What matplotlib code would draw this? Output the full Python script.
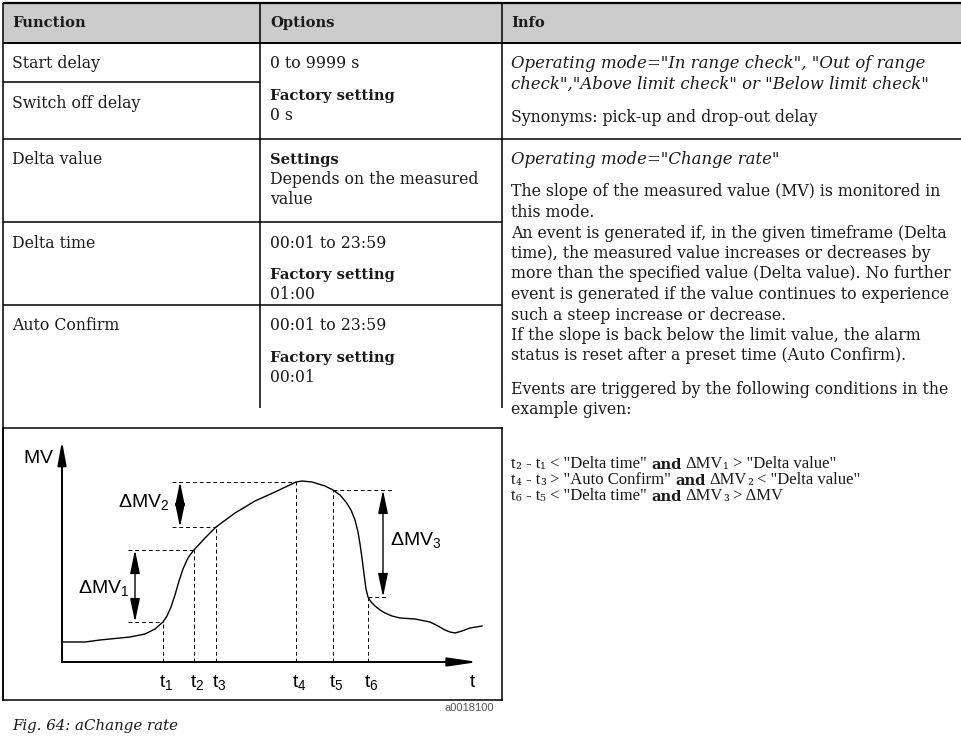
import matplotlib
matplotlib.use("Agg")
import matplotlib.pyplot as plt

# ---------------- data ----------------
header = ["Function", "Options", "Info"]
functions = ["Start delay", "Switch off delay", "Delta value", "Delta time", "Auto Confirm"]
options_lines = [
    ("0 to 9999 s", "normal"), ("Factory setting", "bold"), ("0 s", "normal"),
    ("Settings", "bold"), ("Depends on the measured", "normal"), ("value", "normal"),
    ("00:01 to 23:59", "normal"), ("Factory setting", "bold"), ("01:00", "normal"),
    ("00:01 to 23:59", "normal"), ("Factory setting", "bold"), ("00:01", "normal"),
]
info_lines = [
    ('Operating mode="In range check", "Out of range', "italic"),
    ('check","Above limit check" or "Below limit check"', "italic"),
    ("Synonyms: pick-up and drop-out delay", "normal"),
    ('Operating mode="Change rate"', "italic"),
    ("The slope of the measured value (MV) is monitored in", "normal"),
    ("this mode.", "normal"),
    ("An event is generated if, in the given timeframe (Delta", "normal"),
    ("time), the measured value increases or decreases by", "normal"),
    ("more than the specified value (Delta value). No further", "normal"),
    ("event is generated if the value continues to experience", "normal"),
    ("such a steep increase or decrease.", "normal"),
    ("If the slope is back below the limit value, the alarm", "normal"),
    ("status is reset after a preset time (Auto Confirm).", "normal"),
    ("Events are triggered by the following conditions in the", "normal"),
    ("example given:", "normal"),
]
# runs: (text, kind) with kind r=regular, s=subscript, b=bold ; spaces handled as gaps
cond_lines = [
    [("t", "r"), ("\u2082", "s"), (" - t", "r"), ("\u2081", "s"), (' < "Delta time"', "r"),
     (" and ", "b"), ("\u0394MV", "r"), ("\u2081", "s"), (' > "Delta value"', "r")],
    [("t", "r"), ("\u2084", "s"), (" - t", "r"), ("\u2083", "s"), (' > "Auto Confirm"', "r"),
     (" and ", "b"), ("\u0394MV", "r"), ("\u2082", "s"), (' < "Delta value"', "r")],
    [("t", "r"), ("\u2086", "s"), (" - t", "r"), ("\u2085", "s"), (' < "Delta time"', "r"),
     (" and ", "b"), ("\u0394MV", "r"), ("\u2083", "s"), (" > \u0394MV", "r")],
]
fig_id = "a0018100"
caption = "Fig. 64: aChange rate"

# diagram curve (t, MV)
curve_t = [0, 23, 38, 68, 83, 93, 101, 105, 109, 113, 117, 121, 125, 128, 132, 143, 154,
           173, 193, 213, 234, 240, 250, 263, 271, 278, 284, 289, 293, 296, 298, 300,
           302, 304, 306, 309, 313, 318, 323, 330, 338, 353, 368, 376, 383, 388, 393,
           400, 408, 420]
curve_mv = [20, 20, 22, 25, 28, 33, 40, 46, 55, 67, 81, 93, 102, 107, 112, 124, 135,
            149, 161, 170, 180, 181, 180, 176, 172, 167, 160, 152, 142, 130, 118, 104,
            88, 73, 65, 60, 56, 52, 49, 46, 44, 43, 40, 36, 32, 30, 29, 31, 34, 36]
event_t = [101, 132, 154, 234, 271, 306]
event_mv = [40, 112, 135, 180, 172, 65]
event_labels = ["1", "2", "3", "4", "5", "6"]
delta_labels = ["1", "2", "3"]

# ---------------- figure ----------------
W, H = 962, 742
fig = plt.figure(figsize=(W / 100, H / 100), dpi=100)
fig.patch.set_facecolor("white")
ax = fig.add_axes([0, 0, 1, 1])
ax.set_xlim(0, W)
ax.set_ylim(H, 0)
ax.axis("off")

TXT = "#1a1a1a"
SERIF = ["DejaVu Serif"]
FS = 11.3      # regular
FSB = 10.6     # bold
FSI = 11.9     # italic
LW = 1.1

# header background
ax.fill_between([3, W], 3, 43, color="#cccccc", lw=0, zorder=0)

def hline(y, x0, x1, lw=LW):
    ax.plot([x0, x1], [y, y], color="black", lw=lw, solid_capstyle="butt")

def vline(x, y0, y1, lw=LW):
    ax.plot([x, x], [y0, y1], color="black", lw=lw, solid_capstyle="butt")

hline(3, 3, W, lw=1.6)
hline(43, 3, W, lw=1.4)
hline(82, 3, 260)
hline(139, 3, W)
hline(222, 3, 502)
hline(305, 3, 502)
vline(3, 3, 700)
vline(260, 3, 408)
vline(502, 3, 408)

def put(x, y, s, kind="normal", **kw):
    if kind == "bold":
        return ax.text(x, y, s, fontsize=FSB, fontweight="bold", family=SERIF, color=TXT,
                       va="center", **kw)
    if kind == "italic":
        return ax.text(x, y, s, fontsize=FSI, style="italic", family=SERIF, color=TXT,
                       va="center", **kw)
    return ax.text(x, y, s, fontsize=FS, family=SERIF, color=TXT, va="center", **kw)

# header texts
for s, x in zip(header, [12, 270, 511]):
    put(x, 23, s, "bold")

# function column
for s, y in zip(functions, [64, 104, 160, 243, 326]):
    put(12, y, s)

# options column
opt_y = [64, 96, 115.5, 160, 180, 200, 243, 275, 294.5, 326, 358, 377.5]
for (s, w), y in zip(options_lines, opt_y):
    put(270, y, s, w)

# info column
info_y = [64, 84, 117, 160, 192, 212.5, 233, 253.5, 274, 294.5, 315, 335.5, 356, 389, 409]
for (s, st), y in zip(info_lines, info_y):
    put(511, y, s, st)

# condition lines: chained runs
CFS = 12.0
SPACE = 3.0  # points
RUN_STYLE = {
    "r": dict(fontsize=CFS, family=["Liberation Serif", "DejaVu Serif"]),
    "s": dict(fontsize=10.5, family=SERIF),
    "b": dict(fontsize=10.6, family=SERIF, fontweight="bold"),
}
cond_y = [464, 480, 496]
for runs, y in zip(cond_lines, cond_y):
    prev = None
    pending_gap = 0.0
    for text, kind in runs:
        lead = len(text) - len(text.lstrip(" "))
        trail = len(text) - len(text.rstrip(" "))
        core = text.strip(" ")
        gap = pending_gap + lead * SPACE
        if prev is None:
            prev = ax.text(511, y, core, color=TXT, va="center", **RUN_STYLE[kind])
        else:
            prev = ax.annotate(core, xy=(1, 0), xycoords=prev, xytext=(gap, 0),
                               textcoords="offset points", color=TXT, va="bottom",
                               **RUN_STYLE[kind])
        pending_gap = trail * SPACE

# id + caption
ax.text(494, 708, fig_id, fontsize=8, family=["Liberation Sans"], color="#555555",
        ha="right", va="center")
ax.text(12, 726, caption, fontsize=10.8, family=SERIF, style="italic", color=TXT, va="center")

# ---------------- diagram ----------------
plt.rcParams["mathtext.fontset"] = "custom"
plt.rcParams["mathtext.rm"] = "Liberation Sans"
plt.rcParams["mathtext.it"] = "Liberation Sans:italic"
plt.rcParams["mathtext.bf"] = "Liberation Sans:bold"

bx0, bx1, by0, by1 = 3, 502, 428, 700
ox, oy = 62, 662
ax2 = fig.add_axes([bx0 / W, (H - by1) / H, (bx1 - bx0) / W, (by1 - by0) / H])
ax2.set_xlim(bx0 - ox, bx1 - ox)
ax2.set_ylim(oy - by1, oy - by0)
ax2.set_xticks([])
ax2.set_yticks([])
for sp in ax2.spines.values():
    sp.set_linewidth(LW)
ax2.patch.set_alpha(0)

# axes arrows
ax2.annotate("", xy=(0, 221), xytext=(0, 0),
             arrowprops=dict(arrowstyle="-|>,head_length=1.2,head_width=0.22", color="black",
                             lw=1.4, mutation_scale=12, shrinkA=0, shrinkB=0))
ax2.annotate("", xy=(416, 0), xytext=(0, 0),
             arrowprops=dict(arrowstyle="-|>,head_length=1.5,head_width=0.22", color="black",
                             lw=1.4, mutation_scale=12, shrinkA=0, shrinkB=0))

ax2.plot(curve_t, curve_mv, color="black", lw=1.0, solid_joinstyle="round")

DASH = dict(color="black", lw=0.7, linestyle=(0, (4, 3)))
for t, m in zip(event_t, event_mv):
    ax2.plot([t, t], [0, m], **DASH)

ARW = dict(arrowstyle="<|-|>,head_length=1.2,head_width=0.25", color="black",
           lw=1.0, mutation_scale=12, shrinkA=0, shrinkB=0)

def delta(xd, xa, lo, hi, x_lo_end, x_hi_end):
    ax2.plot([xd, x_lo_end], [lo, lo], **DASH)
    ax2.plot([xd, x_hi_end], [hi, hi], **DASH)
    ax2.annotate("", xy=(xa, hi), xytext=(xa, lo), arrowprops=ARW)

delta(66, 73, event_mv[0], event_mv[1], event_t[0], event_t[1])
delta(110, 118, event_mv[2], event_mv[3], event_t[2], event_t[3])
ax2.plot([event_t[4], 330], [event_mv[4]] * 2, **DASH)
ax2.plot([event_t[5], 326], [event_mv[5]] * 2, **DASH)
ax2.annotate("", xy=(321, event_mv[4]), xytext=(321, event_mv[5]), arrowprops=ARW)

LFS = 14
for lbl, (x, y) in zip(delta_labels, [(16, 69), (56, 155), (328, 117)]):
    ax2.text(x, y, r"$\mathrm{\Delta MV}_{%s}$" % lbl, fontsize=LFS, color="black",
             ha="left", va="baseline")

ax2.text(-39, 199, r"$\mathrm{MV}$", fontsize=LFS, color="black", ha="left", va="baseline")
ax2.text(407, -25, r"$\mathrm{t}$", fontsize=LFS, color="black", ha="left", va="baseline")
for t, lbl in zip(event_t, event_labels):
    ax2.text(t - 4, -25, r"$\mathrm{t}_{%s}$" % lbl, fontsize=LFS, color="black",
             ha="left", va="baseline")

fig.savefig("out.png", dpi=100, facecolor="white")
